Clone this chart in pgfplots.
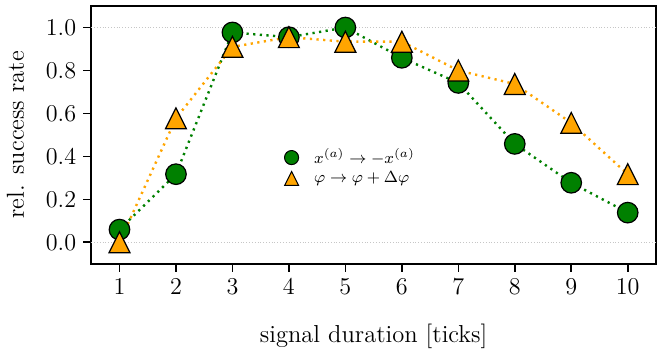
\documentclass[border=0pt]{standalone}
\usepackage{pgfplots}
\pgfplotsset{compat=1.18}
\definecolor{mplgreen}{RGB}{0,128,0}
\definecolor{mplorange}{RGB}{255,165,0}
\begin{document}
\begin{tikzpicture}
\begin{axis}[
  scale only axis,
  width=280.5pt, height=128pt,
  xmin=0.5, xmax=10.5,
  ymin=-0.1, ymax=1.1,
  clip=false,
  xtick={1,...,10},
  ytick={0,0.2,0.4,0.6,0.8,1.0},
  yticklabel style={/pgf/number format/.cd, fixed, fixed zerofill, precision=1},
  tick align=outside,
  xtick pos=bottom, ytick pos=left,
  major tick length=4pt,
  tick style={black, line width=0.8pt},
  axis line style={line width=1pt},
  xlabel={signal duration [ticks]},
  ylabel={rel. success rate},
  xlabel style={yshift=-8pt},
  ylabel style={yshift=4pt},
  tick label style={font=\fontsize{12.2}{14}\selectfont},
  label style={font=\fontsize{12.2}{14}\selectfont},
  legend style={draw=none, fill=none, at={(rel axis cs:0.46,0.375)}, anchor=center,
    font=\fontsize{8.5}{10}\selectfont, row sep=-0.5pt, nodes={inner ysep=1.5pt}},
  legend cell align=left,
  legend image code/.code={\draw[#1] plot coordinates {(0pt,0pt)}; \path (9pt,0pt) (-4pt,0pt);},
]
% grid lines at 0 and 1
\addplot[gray!45, densely dotted, line width=0.4pt, forget plot] coordinates {(0.5,0) (10.5,0)};
\addplot[gray!45, densely dotted, line width=0.4pt, forget plot] coordinates {(0.5,1) (10.5,1)};

\addplot[mplgreen, line width=1.2pt, dash pattern=on 1.1pt off 2.2pt,
  mark=*, mark size=5.1pt, mark options={solid, fill=mplgreen, draw=black, line width=0.6pt},
  forget plot] coordinates {
  (1,0.059) (2,0.317) (3,0.977) (4,0.955) (5,1.00) (6,0.859) (7,0.742) (8,0.458) (9,0.277) (10,0.138)};
\addplot[mplorange, line width=1.2pt, dash pattern=on 1.1pt off 2.2pt,
  mark=triangle*, mark size=6pt, mark options={solid, fill=mplorange, draw=black, line width=0.6pt, yshift=-1.73pt, yscale=1.155},
  forget plot] coordinates {
  (1,0.00) (2,0.577) (3,0.91) (4,0.955) (5,0.934) (6,0.934) (7,0.80) (8,0.737) (9,0.556) (10,0.317)};

\addlegendimage{only marks, mark=*, mark size=3.5pt, mark options={fill=mplgreen, draw=black, line width=0.5pt}}
\addlegendentry{$x^{(a)} \rightarrow -x^{(a)}$}
\addlegendimage{only marks, mark=triangle*, mark size=4pt, mark options={fill=mplorange, draw=black, line width=0.5pt, yshift=-1.15pt, yscale=1.155}}
\addlegendentry{$\varphi \rightarrow \varphi + \Delta\varphi$}

% a little room at the right and top edges
\path (rel axis cs:1,0) ++(4pt,0pt);
\path (rel axis cs:0,1) ++(0pt,3pt);
\end{axis}
\end{tikzpicture}
\end{document}
